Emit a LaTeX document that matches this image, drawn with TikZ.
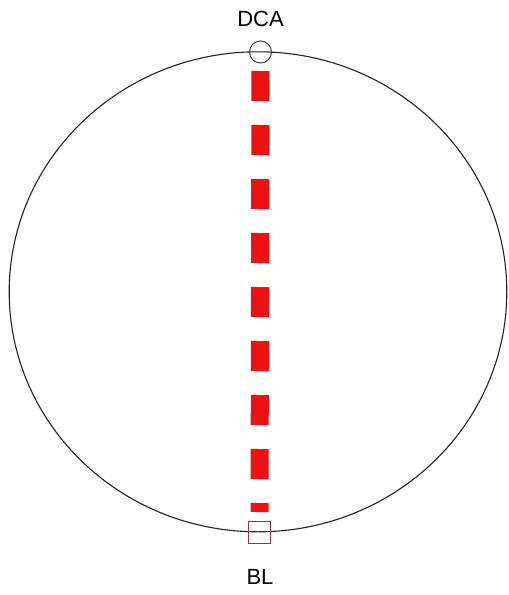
\documentclass[tikz,border=0pt]{standalone}
\usepackage{fontspec}
\setmainfont{Liberation Sans}
\definecolor{rimcol}{HTML}{222222}
\definecolor{dcacol}{HTML}{3A3A78}
\definecolor{blcol}{HTML}{993344}
\definecolor{dashred}{HTML}{EE1111}
\begin{document}
\begin{tikzpicture}[x=1pt,y=-1pt,
  rim/.style={draw=rimcol,line width=1.1pt},
  marker/.style={draw,line width=1pt,inner sep=0pt,outer sep=0pt},
  lbl/.style={font=\fontsize{22}{26}\selectfont,text=black,inner sep=0pt},
  reddash/.style={draw=dashred,line width=18pt,dash pattern=on 30pt off 24pt}]
\useasboundingbox (0,0) rectangle (509,595);
\fill[white] (0,0) rectangle (509,595);
\draw[rim] (258,291.8) ellipse [x radius=248.8, y radius=240];
\node[marker,circle,draw=dcacol,minimum size=22pt] (dca) at (260.5,52) {};
\node[marker,rectangle,draw=blcol,minimum size=22pt] (bl) at (259.5,532.5) {};
\draw[reddash,shorten <=8pt,shorten >=9.5pt] (dca) -- (bl);
\node[lbl] (dcalabel) at (260.5,18.5) {DCA};
\node[lbl] (bllabel) at (260,577) {BL};
\end{tikzpicture}
\end{document}
